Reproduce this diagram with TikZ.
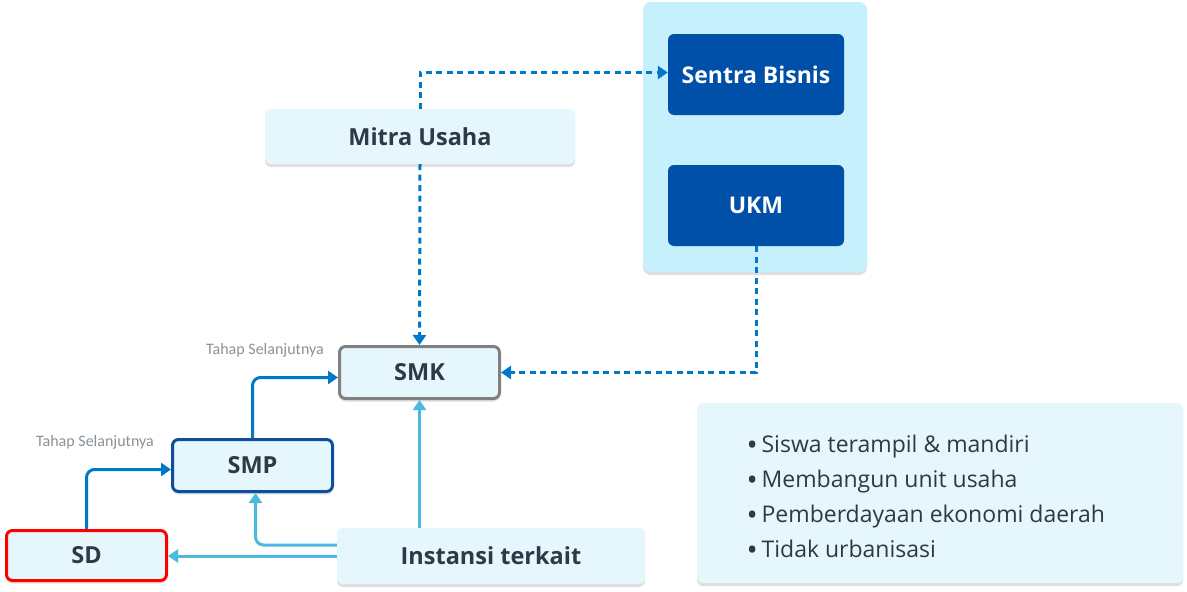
\documentclass[tikz,border=0pt]{standalone}
\usepackage{fontspec}
\setmainfont{Open Sans}
\newfontfamily\notefont{Carlito}
\usetikzlibrary{shadows,arrows.meta}
\definecolor{boxlight}{HTML}{E6F6FD}
\definecolor{panelcyan}{HTML}{C6F0FC}
\definecolor{boxdark}{HTML}{0050A9}
\definecolor{smpblue}{HTML}{0D4E9E}
\definecolor{smkgray}{HTML}{808080}
\definecolor{arrowblue}{HTML}{0078C8}
\definecolor{arrowlight}{HTML}{4ABBDF}
\definecolor{textdark}{HTML}{2C3A47}
\definecolor{notegray}{HTML}{8A9197}
\newcommand{\poinbullet}{\raisebox{-2.5pt}{\scalebox{1.3}{•}}\,}
\tikzset{
    shadowed/.style={drop shadow={shadow xshift=0pt, shadow yshift=-3pt, opacity=0.25, fill=gray}},
    lightbox/.style={fill=boxlight, rounded corners=6pt, inner sep=0pt, text=textdark,
        font=\bfseries\fontsize{23.5}{26}\selectfont},
    darkbox/.style={fill=boxdark, rounded corners=6pt, inner sep=0pt, text=white,
        minimum width=176pt, minimum height=81pt, font=\bfseries\fontsize{23}{26}\selectfont},
    flow/.style={arrowblue, line width=3pt, rounded corners=8pt, -{Triangle[length=10pt,width=13pt]}},
    support/.style={arrowlight, line width=3pt, rounded corners=8pt, -{Triangle[length=10pt,width=13pt]}},
    link/.style={arrowblue, line width=3pt, dash pattern=on 6pt off 4.5pt, -{Triangle[length=10pt,width=13pt]}},
    note/.style={text=notegray, font=\notefont\fontsize{16}{18}\selectfont}
}
\begin{document}
\begin{tikzpicture}[x=1pt,y=-1pt]
    \useasboundingbox (0,0) rectangle (1187,592);
    \fill[white] (0,0) rectangle (1187,592);
    % right panel
    \fill[panelcyan, rounded corners=8pt, shadowed] (643,2) rectangle (867,272);
    \node[darkbox] (sentra) at (756,74.5) {Sentra Bisnis};
    \node[darkbox] (ukm) at (756,205.5) {UKM};
    % school levels
    \node[lightbox, shadowed, minimum width=310pt, minimum height=55pt] (mitra) at (420,136.5) {Mitra Usaha};
    \node[lightbox, draw=smkgray, line width=3pt, shadowed, minimum width=160pt, minimum height=52pt] (smk) at (419.5,372.5) {SMK};
    \node[lightbox, draw=smpblue, line width=3pt, shadowed, minimum width=160pt, minimum height=52pt] (smp) at (252.5,465.5) {SMP};
    \node[lightbox, draw=red, line width=3pt, shadowed, minimum width=160pt, minimum height=50pt] (sd) at (86.5,555.5) {SD};
    \node[lightbox, shadowed, minimum width=308pt, minimum height=56pt] (inst) at (491,556) {Instansi terkait};
    % result box
    \node[lightbox, shadowed, minimum width=486pt, minimum height=180pt] (hasil) at (940,493) {};
    \node[anchor=west, align=left, text=textdark, font=\fontsize{23}{35}\selectfont] (poin) at (743,498)
        {\poinbullet Siswa terampil \& mandiri\\\poinbullet Membangun unit usaha\\\poinbullet Pemberdayaan ekonomi daerah\\\poinbullet Tidak urbanisasi};
    % connectors
    \draw[link] (mitra.north) |- ([yshift=2pt]sentra.west);
    \draw[link] (mitra.south) -- (smk.north);
    \draw[link] (ukm.south) |- (smk.east);
    \draw[flow] (sd.north) |- ([yshift=-4pt]smp.west);
    \draw[flow] (smp.north) |- ([yshift=-5pt]smk.west);
    \draw[support] (inst.west) -- (inst.west -| sd.east);
    \draw[support] ([yshift=11pt]inst.west) -| ([xshift=3pt]smp.south);
    \draw[support] (inst.north -| smk.south) -- (smk.south);
    \node[note, anchor=south] (tahap1) at (95,453) {Tahap Selanjutnya};
    \node[note, anchor=south] (tahap2) at (265,361) {Tahap Selanjutnya};
\end{tikzpicture}
\end{document}
